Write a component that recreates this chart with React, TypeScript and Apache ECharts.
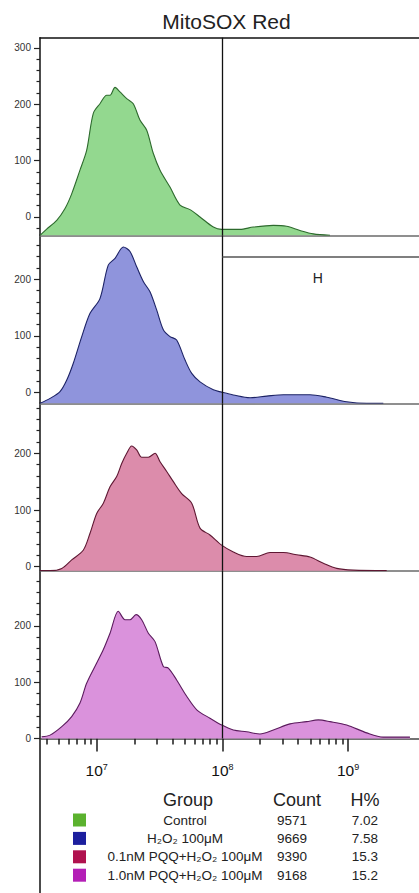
import React, { useEffect, useRef } from "react";
import * as echarts from "echarts";

// x values are log10(intensity), y values are counts (in each panel's axis units)
const controlCurve: [number, number][] = [
  [6.549, -32.6], [6.6, -22], [6.682, -6], [6.748, 15], [6.801, 41], [6.867, 83], [6.92, 118],
  [6.973, 184], [7.026, 201], [7.08, 216], [7.106, 216], [7.146, 230], [7.185, 222],
  [7.239, 210], [7.291, 201], [7.344, 172], [7.398, 154], [7.45, 113], [7.504, 83],
  [7.583, 53], [7.663, 21], [7.742, 13], [7.822, 0], [7.928, -18], [7.994, -22],
  [8.14, -22], [8.246, -18], [8.405, -15], [8.51, -16.5], [8.617, -24], [8.723, -30],
  [8.856, -32.6],
];
const h2o2Curve: [number, number][] = [
  [6.549, -18.7], [6.629, -10], [6.708, 2], [6.761, 22], [6.814, 52], [6.881, 99], [6.947, 140],
  [7.026, 166], [7.092, 225], [7.146, 237], [7.212, 257], [7.265, 249], [7.318, 222],
  [7.371, 196], [7.424, 178], [7.477, 146], [7.53, 111], [7.583, 99], [7.636, 93],
  [7.702, 58], [7.756, 34], [7.822, 19], [7.928, 5], [7.994, 1], [8.087, -4], [8.22, -9],
  [8.352, -6], [8.485, -3.5], [8.697, -3.5], [8.83, -8], [8.989, -16], [9.148, -18.7],
  [9.28, -18.7],
];
const pqq01Curve: [number, number][] = [
  [6.549, -7], [6.629, -7], [6.722, -3], [6.801, 12], [6.893, 29], [6.947, 59], [7.0, 94],
  [7.053, 112], [7.106, 141], [7.159, 159], [7.199, 182], [7.239, 200], [7.278, 213],
  [7.318, 206], [7.358, 193], [7.411, 193], [7.464, 200], [7.504, 185], [7.557, 168],
  [7.61, 150], [7.676, 129], [7.756, 112], [7.822, 68], [7.901, 56], [7.994, 38],
  [8.087, 26], [8.193, 18], [8.273, 18], [8.379, 25], [8.485, 25], [8.591, 21],
  [8.697, 17], [8.803, 6], [8.909, -3], [9.041, -6], [9.307, -7],
];
const pqq10Curve: [number, number][] = [
  [6.562, 3], [6.629, 6], [6.722, 21], [6.801, 39], [6.867, 63], [6.92, 98], [7.0, 134],
  [7.053, 158], [7.106, 187], [7.172, 226], [7.225, 211], [7.265, 211], [7.313, 220],
  [7.358, 211], [7.411, 187], [7.464, 172], [7.53, 128], [7.57, 125], [7.636, 104],
  [7.716, 75], [7.796, 51], [7.901, 36], [7.994, 24], [8.087, 15], [8.193, 12],
  [8.299, 8], [8.405, 15], [8.538, 26], [8.671, 30], [8.763, 33], [8.856, 30],
  [8.989, 24], [9.148, 10], [9.28, 2.5], [9.492, 2.5],
];

const groups = ["Control", "H₂O₂ 100μM", "0.1nM PQQ+H₂O₂ 100μM", "1.0nM PQQ+H₂O₂ 100μM"];
const counts = ["9571", "9669", "9390", "9168"];
const hPercents = ["7.02", "7.58", "15.3", "15.2"];

const decadeTicks = [7, 8, 9];
const minorTickIntensities = [
  4e6, 5e6, 6e6, 7e6, 8e6, 9e6,
  2e7, 3e7, 4e7, 5e7, 6e7, 7e7, 8e7, 9e7,
  2e8, 3e8, 4e8, 5e8, 6e8, 7e8, 8e8, 9e8,
];
const gateX = 8; // log10 of 10^8
const gateHLevel = 239;
const gateLabelPos: [number, number] = [8.76, 203];

const yLabelValues = [[0, 100, 200, 300], [0, 100, 200], [0, 100, 200], [0, 100, 200]];

const FONT = "'Liberation Sans', Arial, sans-serif";

export default function App() {
  const ref = useRef<HTMLDivElement>(null);
  useEffect(() => {
    if (!ref.current) return;
    const chart = echarts.init(ref.current, undefined, { renderer: "svg" });

    const xMin = 6.549;
    const xMax = 9.564;
    const grids = [
      { left: 40, right: 0, top: 37.7, height: 197.6 },
      { left: 40, right: 0, top: 235.3, height: 168 },
      { left: 40, right: 0, top: 403.3, height: 167.4 },
      { left: 40, right: 0, top: 570.7, height: 167.8 },
    ];
    const yMins = [-32.6, -18.7, -7.05, 0];
    const yMaxs = [318.2, 277.6, 288.2, 298];
    const curves = [controlCurve, h2o2Curve, pqq01Curve, pqq10Curve];
    const fillColors = ["#93d88f", "#8f94dc", "#dc8cab", "#da92dc"];
    const lineColors = ["#2d6a2d", "#1d2366", "#5e1732", "#5b1b5d"];
    const legendColors = ["#5bb22e", "#1c1f9e", "#b0124f", "#b41fb6"];

    const xAxes: any[] = grids.map((_, i) => ({
      type: "value",
      gridIndex: i,
      min: xMin,
      max: xMax,
      position: "bottom",
      axisLine: { show: true, onZero: false, lineStyle: { color: i === 3 ? "#444" : "#6a6a6a", width: 1.5 } },
      axisTick: i === 3
        ? { show: true, customValues: decadeTicks, length: 13, lineStyle: { color: "#1a1a1a", width: 1.5 } }
        : { show: false },
      axisLabel: i === 3
        ? {
            show: true,
            customValues: decadeTicks,
            margin: 24,
            formatter: (v: number) => `{b|10}{s|${Math.round(v)}}`,
            rich: {
              b: { fontSize: 15.5, lineHeight: 16, color: "#111", fontFamily: FONT, verticalAlign: "bottom" },
              s: { fontSize: 9, lineHeight: 16, color: "#111", fontFamily: FONT, verticalAlign: "top" },
            },
          }
        : { show: false },
      splitLine: { show: false },
    }));
    // top frame
    xAxes.push({
      type: "value", gridIndex: 0, min: xMin, max: xMax, position: "top",
      axisLine: { show: true, onZero: false, lineStyle: { color: "#111", width: 1.5 } },
      axisTick: { show: false }, axisLabel: { show: false }, splitLine: { show: false },
    });
    // minor ticks on bottom axis
    xAxes.push({
      type: "value", gridIndex: 3, min: xMin, max: xMax, position: "bottom", offset: 0,
      axisLine: { show: false, onZero: false },
      axisTick: { show: true, customValues: minorTickIntensities.map((v) => Math.log10(v)), length: 6, lineStyle: { color: "#1a1a1a", width: 1.5 } },
      axisLabel: { show: false }, splitLine: { show: false },
    });

    const yAxes: any[] = [];
    grids.forEach((_, i) => {
      const minors: number[] = [];
      for (let v = -40; v <= yMaxs[i]; v += 20) {
        if (v >= yMins[i] && v % 100 !== 0) minors.push(v);
      }
      yAxes.push({
        type: "value", gridIndex: i, min: yMins[i], max: yMaxs[i], position: "left", offset: 0,
        axisLine: { show: true, onZero: false, lineStyle: { color: "#111", width: 1.5 } },
        axisTick: { show: true, customValues: yLabelValues[i], length: 6, lineStyle: { color: "#222", width: 1.2 } },
        axisLabel: { show: true, customValues: yLabelValues[i], margin: 9, fontSize: 10, color: "#333", fontFamily: FONT },
        splitLine: { show: false },
      });
      yAxes.push({
        type: "value", gridIndex: i, min: yMins[i], max: yMaxs[i], position: "left", offset: 0,
        axisLine: { show: false, onZero: false },
        axisTick: { show: true, customValues: minors, length: 3.5, lineStyle: { color: "#222", width: 1.2 } },
        axisLabel: { show: false }, splitLine: { show: false },
      });
    });

    const series: any[] = curves.map((c, i) => {
      const markLineData: any[] = [{ xAxis: gateX }];
      if (i === 1) {
        markLineData.push([
          { coord: [gateX, gateHLevel], lineStyle: { color: "#555", width: 1.6 } },
          { coord: [xMax, gateHLevel] },
        ]);
      }
      return {
        type: "line",
        xAxisIndex: i,
        yAxisIndex: 2 * i,
        data: c,
        showSymbol: false,
        symbol: "none",
        smooth: 0.3,
        lineStyle: { color: lineColors[i], width: 1.1 },
        areaStyle: { color: fillColors[i], opacity: 1, origin: "start" },
        z: 2,
        markLine: {
          silent: true,
          symbol: "none",
          label: { show: false },
          lineStyle: { color: "#111", width: 1.3, type: "solid" },
          data: markLineData,
          z: 5,
        },
        markPoint: i === 1
          ? {
              silent: true,
              symbol: "circle",
              symbolSize: 1,
              itemStyle: { color: "rgba(0,0,0,0)" },
              label: { show: true, position: "inside", formatter: "H", fontSize: 14, color: "#222", fontFamily: FONT },
              data: [{ coord: gateLabelPos }],
            }
          : undefined,
      };
    });

    const graphics: any[] = [
      {
        type: "text", x: 226.5, y: 21,
        style: { text: "MitoSOX Red", fontSize: 21, fontFamily: FONT, fill: "#222", textAlign: "center", textVerticalAlign: "middle" },
      },
      { type: "line", shape: { x1: 40, y1: 738, x2: 40, y2: 893 }, style: { stroke: "#111", lineWidth: 1.5 } },
      { type: "text", x: 188, y: 800, style: { text: "Group", fontSize: 18, fontFamily: FONT, fill: "#222", textAlign: "center", textVerticalAlign: "middle" } },
      { type: "text", x: 297, y: 800, style: { text: "Count", fontSize: 18, fontFamily: FONT, fill: "#222", textAlign: "center", textVerticalAlign: "middle" } },
      { type: "text", x: 365, y: 800, style: { text: "H%", fontSize: 18, fontFamily: FONT, fill: "#222", textAlign: "center", textVerticalAlign: "middle" } },
    ];
    groups.forEach((g, i) => {
      const y = 820 + 18.4 * i;
      graphics.push({ type: "rect", shape: { x: 73, y: y - 6.5, width: 13, height: 13 }, style: { fill: legendColors[i] } });
      graphics.push({ type: "text", x: 185, y, style: { text: g, fontSize: 13.5, fontFamily: FONT, fill: "#222", textAlign: "center", textVerticalAlign: "middle" } });
      graphics.push({ type: "text", x: 292, y, style: { text: counts[i], fontSize: 13.5, fontFamily: FONT, fill: "#222", textAlign: "center", textVerticalAlign: "middle" } });
      graphics.push({ type: "text", x: 378, y, style: { text: hPercents[i], fontSize: 13.5, fontFamily: FONT, fill: "#222", textAlign: "right", textVerticalAlign: "middle" } });
    });

    chart.setOption({
      animation: false,
      backgroundColor: "#ffffff",
      grid: grids,
      xAxis: xAxes,
      yAxis: yAxes,
      series,
      graphic: graphics,
    });
    return () => chart.dispose();
  }, []);
  return (
    <div
      ref={ref}
      style={{ position: "fixed", left: 0, top: 0, width: 419, height: 893, background: "#fff" }}
    />
  );
}
